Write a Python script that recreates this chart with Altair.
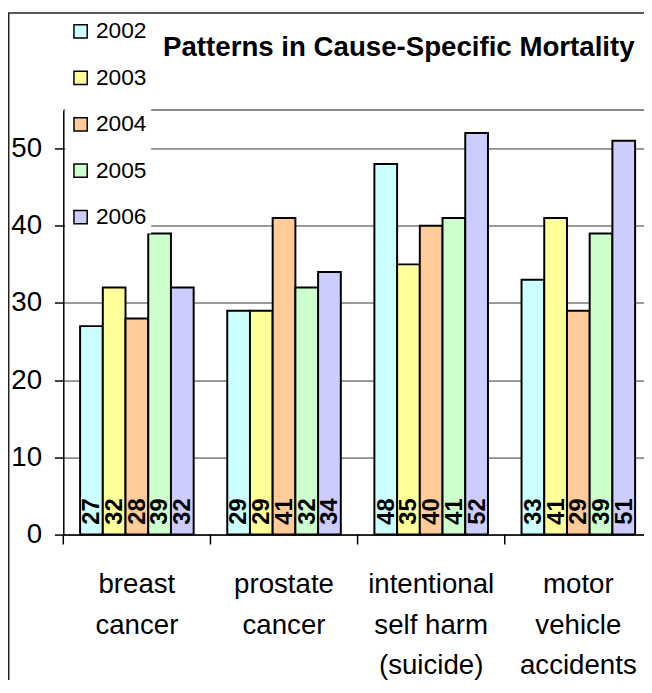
import altair as alt
import pandas as pd

causes = ["breast cancer", "prostate cancer", "intentional self harm (suicide)", "motor vehicle accidents"]
cause_lines = [["breast", "cancer"], ["prostate", "cancer"],
               ["intentional", "self harm", "(suicide)"], ["motor", "vehicle", "accidents"]]
years = ["2002", "2003", "2004", "2005", "2006"]
colors = ["#CCFFFF", "#FFFF99", "#FFCC99", "#CCFFCC", "#CCCCFF"]
v2002 = [27, 29, 48, 33]
v2003 = [32, 29, 35, 41]
v2004 = [28, 41, 40, 29]
v2005 = [39, 32, 41, 39]
v2006 = [32, 34, 52, 51]
y_ticks = [0, 10, 20, 30, 40, 50]
chart_title = "Patterns in Cause-Specific Mortality"

rows = []
for yr, vals in zip(years, [v2002, v2003, v2004, v2005, v2006]):
    for c, v in zip(causes, vals):
        rows.append({"cause": c, "year": yr, "value": v})
df = pd.DataFrame(rows)

# label expression: split category names over several lines
expr = "''"
for c, lines in reversed(list(zip(causes, cause_lines))):
    arr = "[" + ",".join("'" + s + "'" for s in lines) + "]"
    expr = f"datum.value == '{c}' ? {arr} : ({expr})"

W, H = 588, 430
FONT = "Liberation Sans"

# the category bands run a little past the visible right edge, as in the original
x_scale = alt.Scale(domain=causes, range=[0, 596], paddingInner=0, paddingOuter=0)
xo_scale = alt.Scale(domain=years, paddingInner=0, paddingOuter=0.739)
y_scale = alt.Scale(domain=[0, 55], nice=False, zero=True)

border = alt.Chart(pd.DataFrame({"k": [0]})).mark_rect(
    filled=False, stroke="#222222", strokeWidth=1.5
).encode(
    x=alt.value(-55.25), x2=alt.value(W + 60), y=alt.value(-98.25), y2=alt.value(H + 300)
)

plot_top = alt.Chart(pd.DataFrame({"k": [0]})).mark_rule(
    color="#888888", strokeWidth=2
).encode(
    x=alt.value(0), x2=alt.value(W + 20), y=alt.value(0)
)

title_mark = alt.Chart(pd.DataFrame({"t": [chart_title]})).mark_text(
    align="left", baseline="alphabetic", font=FONT, fontSize=28, fontWeight="bold", color="black"
).encode(
    x=alt.value(101), y=alt.value(-55), text="t:N"
)

bars = alt.Chart(df).mark_bar(stroke="black", strokeWidth=2).encode(
    x=alt.X("cause:N", scale=x_scale, sort=causes, title=None,
            axis=alt.Axis(labelAngle=0, ticks=False, labelFontSize=28, labelFont=FONT,
                          labelColor="black", labelPadding=37, labelLineHeight=41,
                          labelExpr=expr, domainColor="black", domainWidth=1.5,
                          grid=False, labelLimit=400)),
    xOffset=alt.XOffset("year:N", scale=xo_scale, sort=years),
    y=alt.Y("value:Q", scale=y_scale, title=None,
            axis=alt.Axis(values=y_ticks, tickSize=9, tickColor="black", tickWidth=1.5,
                          labelFontSize=28, labelFont=FONT, labelColor="black",
                          labelPadding=13, domainColor="black", domainWidth=1.5,
                          grid=True, gridColor="#333333", gridWidth=1)),
    color=alt.Color("year:N", scale=alt.Scale(domain=years, range=colors),
                    legend=alt.Legend(title=None, orient="none", legendX=2, legendY=-95,
                                      direction="vertical", fillColor="white", padding=4,
                                      symbolType="square", symbolSize=180,
                                      symbolStrokeColor="black", symbolStrokeWidth=1.5,
                                      symbolOpacity=1, labelFontSize=23, labelFont=FONT,
                                      labelColor="black", rowPadding=23, labelOffset=4)),
)

labels = alt.Chart(df).mark_text(
    angle=270, align="left", baseline="middle", dx=10, dy=1,
    font=FONT, fontWeight="bold", fontSize=24, color="black"
).encode(
    x=alt.X("cause:N", scale=x_scale, sort=causes),
    xOffset=alt.XOffset("year:N", scale=xo_scale, sort=years),
    y=alt.datum(0),
    text="value:Q",
)

ticks = alt.Chart(pd.DataFrame({"cause": causes})).mark_rule(
    color="black", strokeWidth=1.5
).encode(
    x=alt.X("cause:N", scale=x_scale, sort=causes, bandPosition=0),
    y=alt.value(H), y2=alt.value(H + 10),
)

chart = alt.layer(border, plot_top, bars, labels, ticks, title_mark).properties(
    width=W, height=H,
    padding={"left": 56, "top": 99, "right": 0, "bottom": 143},
    autosize=alt.AutoSizeParams(type="none"),
).configure_view(strokeWidth=0)

chart.save("out.html", embed_options={"renderer": "svg", "actions": False})
